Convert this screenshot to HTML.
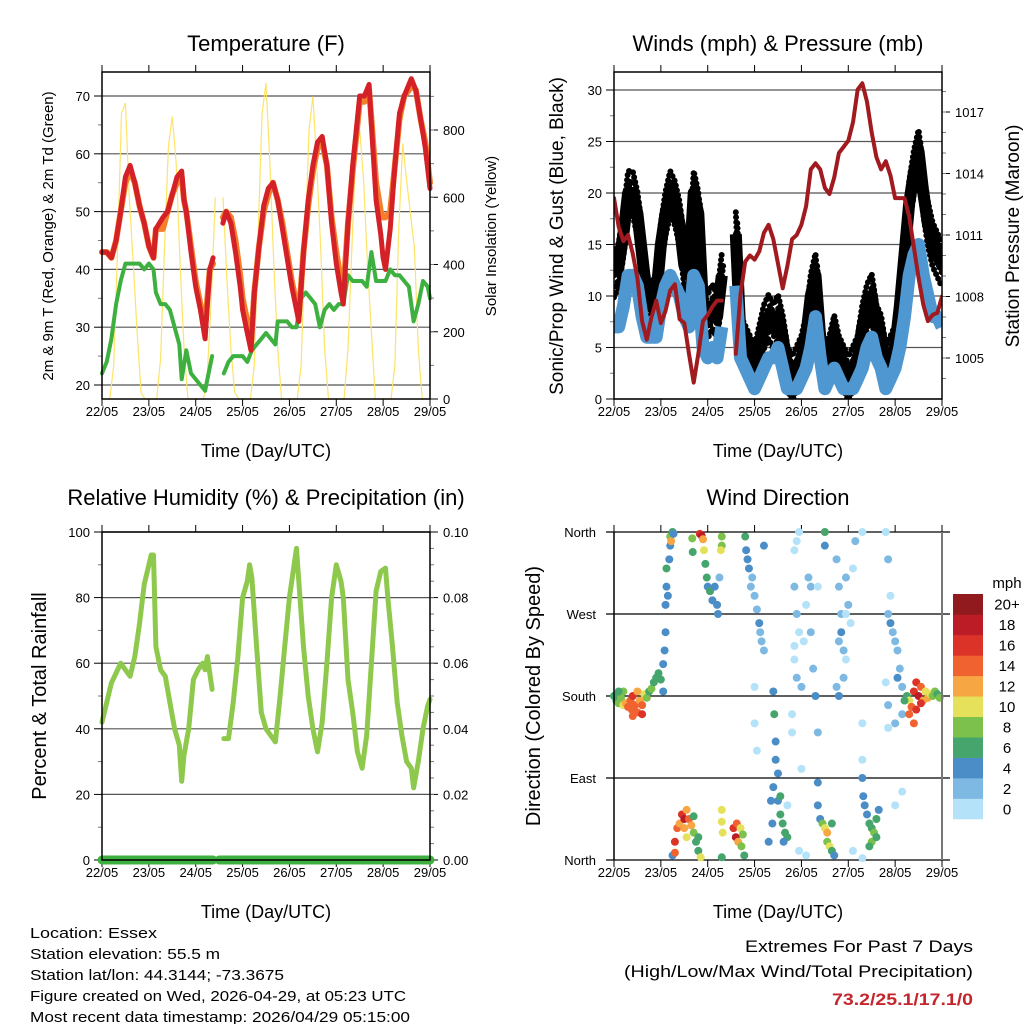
<!DOCTYPE html>
<html><head><meta charset="utf-8"><style>
html,body{margin:0;padding:0;background:#fff}
svg{display:block;font-family:"Liberation Sans",sans-serif}
</style></head><body>
<svg id="fig" width="1024" height="1024" viewBox="0 0 1024 1024"></svg>
<script>
// ---------- DATA ----------
const dayLabels=["22/05","23/05","24/05","25/05","26/05","27/05","28/05","29/05"];
const tempTimes=[0,0.1,0.2,0.3,0.4,0.5,0.6,0.7,0.8,0.9,1.0,1.05,1.1,1.15,1.3,1.4,1.5,1.6,1.7,1.75,1.8,1.9,2.0,2.1,2.2,2.25,2.3,2.37,2.45,2.58,2.65,2.75,2.85,2.95,3.0,3.1,3.18,3.25,3.35,3.45,3.55,3.65,3.75,3.85,3.95,4.05,4.15,4.2,4.3,4.4,4.5,4.6,4.7,4.8,4.9,5.0,5.1,5.15,5.25,5.35,5.45,5.5,5.6,5.7,5.75,5.85,5.95,6.0,6.05,6.15,6.25,6.35,6.45,6.55,6.6,6.7,6.8,6.9,7.0];
const tempRed=[43,43,42,45,50,56,58,55,51,48,44,43,42,47,49,50,53,56,57,52,50,43,37,33,28,34,40,42,null,48,50,48,43,37,33,29,26,36,44,51,54,55,52,47,42,37,33,31,43,52,58,62,63,58,48,41,36,34,48,58,66,70,70,72,65,52,46,42,40,47,58,67,70,72,73,71,66,61,54];
const tempOrange=[43,43,42,45,50,55,57,55,51,48,44,43,42,47,47,50,53,55,56,52,50,44,38,34,30,35,40,41,null,49,50,49,45,39,35,31,27,36,44,50,53,55,52,48,43,38,34,32,43,51,57,61,62,58,49,43,38,36,48,57,65,69,69,71,66,55,50,49,49,50,58,66,70,71,72,71,66,62,55];
const dewTimes=[0,0.1,0.2,0.3,0.4,0.5,0.6,0.7,0.8,0.9,1.0,1.1,1.15,1.25,1.35,1.45,1.55,1.65,1.7,1.8,1.9,2.0,2.1,2.2,2.25,2.35,2.45,2.6,2.7,2.8,2.9,3.0,3.1,3.2,3.3,3.4,3.5,3.6,3.7,3.75,3.85,3.95,4.05,4.15,4.25,4.35,4.45,4.55,4.65,4.75,4.85,4.95,5.05,5.15,5.25,5.35,5.45,5.55,5.65,5.75,5.85,5.95,6.05,6.15,6.25,6.35,6.45,6.55,6.65,6.75,6.85,6.95,7.0];
const dewValues=[22,24,28,34,38,41,41,41,41,40,41,40,36,34,34,33,30,27,21,26,22,21,20,19,21,25,null,22,24,25,25,25,24,26,27,28,29,28,27,31,31,31,30,30,35,36,35,34,30,33,34,33,34,34,39,38,38,38,37,43,38,38,38,40,39,39,38,37,31,34,38,37,35];
const solarTimes=[0,0.083,0.167,0.25,0.333,0.417,0.5,0.583,0.667,0.75,0.833,0.917,1,1.083,1.167,1.25,1.333,1.417,1.5,1.583,1.667,1.75,1.833,1.917,2,2.083,2.167,2.25,2.333,2.417,2.5,2.583,2.667,2.75,2.833,2.917,3,3.083,3.167,3.25,3.333,3.417,3.5,3.583,3.667,3.75,3.833,3.917,4,4.083,4.167,4.25,4.333,4.417,4.5,4.583,4.667,4.75,4.833,4.917,5,5.083,5.167,5.25,5.333,5.417,5.5,5.583,5.667,5.75,5.833,5.917,6,6.083,6.167,6.25,6.333,6.417,6.5,6.583,6.667,6.75,6.833,6.917,7];
const solarValues=[0,0,0,100,450,850,880,600,400,200,20,0, 0,0,0,120,450,750,840,700,400,150,0,0, 0,0,0,80,300,600,null,600,350,150,20,0, 0,0,0,100,500,850,940,700,400,150,0,0, 0,0,0,100,450,800,900,700,450,150,0,0, 0,0,0,150,450,750,800,650,400,200,0,0, 0,0,0,100,500,760,650,550,450,150,0,0, 0];
const windTimes=[0,0.1,0.2,0.3,0.4,0.5,0.6,0.7,0.8,0.9,1.0,1.1,1.2,1.3,1.4,1.5,1.6,1.7,1.8,1.9,2.0,2.1,2.2,2.3,2.4,2.5,2.6,2.7,2.8,2.9,3.0,3.1,3.2,3.3,3.4,3.5,3.6,3.7,3.8,3.9,4.0,4.1,4.2,4.3,4.4,4.5,4.6,4.7,4.8,4.9,5.0,5.1,5.2,5.3,5.4,5.5,5.6,5.7,5.8,5.9,6.0,6.1,6.2,6.3,6.4,6.5,6.6,6.7,6.8,6.9,7.0];
const gustValues=[12,13,16,20,20,18,14,10,9,10,15,18,20,19,17,13,12,20,18,9,8,9,8,12,null,null,16,6,5,4,3,5,7,8,7,8,6,3,2,3,4,6,10,12,6,3,4,6,4,3,2,3,4,7,9,10,7,6,3,4,5,9,14,19,22,24,20,17,15,14,13];
const windValues=[7,7,9,12,12,11,8,6,6,6,9,11,12,11,10,8,7,12,11,5,4,5,4,7,null,null,11,4,3,2,1,2,3,4,4,5,3,1,1,1,2,3,5,8,4,1,2,3,2,1,1,1,2,3,5,6,4,3,1,2,3,5,8,12,14,15,12,10,8,8,7];
const pressureValues=[1012.8,1011.4,1010.7,1011.0,1010.1,1008.9,1006.8,1005.9,1007.0,1007.8,1006.7,1007.3,1008.3,1008.6,1006.9,1006.7,1005.2,1003.8,1005.2,1006.8,1007.1,1007.5,1007.8,1007.8,null,null,1005.2,1008.1,1009.7,1010.0,1009.8,1010.2,1011.1,1011.5,1010.8,1009.6,1008.4,1009.5,1010.8,1011.0,1011.5,1012.4,1014.2,1014.5,1014.2,1013.3,1013.0,1013.8,1015.0,1015.3,1015.6,1016.5,1018.1,1018.4,1017.5,1016.0,1014.8,1014.2,1014.6,1013.9,1012.8,1012.8,1012.8,1011.9,1010.4,1008.9,1007.6,1006.8,1007.1,1007.2,1008.0];
const rhTimes=[0,0.1,0.2,0.3,0.4,0.5,0.6,0.7,0.8,0.9,1.0,1.05,1.1,1.15,1.25,1.35,1.45,1.55,1.65,1.7,1.75,1.85,1.95,2.05,2.15,2.2,2.25,2.35,2.45,2.6,2.7,2.8,2.9,3.0,3.1,3.15,3.2,3.3,3.4,3.5,3.6,3.7,3.8,3.9,4.0,4.1,4.15,4.2,4.3,4.4,4.5,4.6,4.7,4.8,4.9,5.0,5.1,5.15,5.25,5.35,5.45,5.55,5.65,5.75,5.85,5.95,6.05,6.1,6.2,6.3,6.4,6.5,6.6,6.65,6.75,6.85,6.95,7.0];
const rhValues=[42,48,54,57,60,58,56,62,72,84,90,93,93,65,58,56,48,40,35,24,32,40,55,58,60,58,62,52,null,37,37,48,62,80,85,90,86,65,45,40,38,36,50,65,80,90,95,85,65,50,40,33,42,60,80,90,85,80,55,45,33,28,38,60,82,88,89,80,65,48,38,30,28,22,30,40,47,49];
const precipTimes=[0,2.37,2.45,2.5,7.0];
const precipValues=[0,0,null,0,0];
const dirTimes=[0,0.05,0.1,0.15,0.2,0.25,0.3,0.35,0.38,0.4,0.45,0.5,0.55,0.6,0.65,0.7,0.75,0.8,0.85,0.9,0.95,1.0,0.2,0.1,0.5,0.6,0.4,
1.05,1.05,1.08,1.1,1.1,1.12,1.12,1.15,1.18,1.2,1.2,1.22,1.25,1.27,
1.25,1.3,1.3,1.35,1.4,1.45,1.5,1.5,1.55,1.6,1.65,1.55,1.7,1.75,1.8,1.85,1.7,1.8,
1.67,1.68,1.83,1.87,1.9,1.92,1.95,1.98,2.0,2.05,2.1,2.15,2.2,2.22,2.25,2.3,2.3,2.28,
2.3,2.3,2.32,2.3,2.55,2.6,2.62,2.65,2.7,2.72,2.78,2.75,
2.8,2.82,2.85,2.88,2.92,2.95,3.0,3.05,3.1,3.12,3.15,3.2,3.0,3.0,3.05,3.2,
3.4,3.42,3.45,3.45,3.5,3.4,3.35,3.38,3.3,3.5,3.55,3.6,3.65,3.7,3.62,3.55,3.7,
3.85,3.9,3.95,3.85,3.9,3.95,3.85,3.9,4.0,4.05,4.1,4.15,4.2,4.25,4.3,3.8,3.8,4.0,4.2,3.95,4.1,3.85,
4.35,4.35,4.4,4.45,4.5,4.55,4.55,4.6,4.65,4.7,4.65,4.35,4.35,4.5,4.5,4.75,4.8,4.85,4.8,4.9,4.9,4.75,4.85,4.95,4.95,5.0,5.05,5.1,5.15,4.8,4.95,5.3,5.3,5.3,
5.3,5.32,5.35,5.4,5.45,5.5,5.55,5.6,5.65,5.5,5.45,5.6,5.1,5.3,
5.8,5.85,5.9,5.85,5.9,5.95,6.0,6.05,6.1,6.05,6.15,5.8,5.85,5.85,6.0,6.15,6.15,6.0,
6.25,6.3,6.35,6.4,6.45,6.5,6.55,6.6,6.65,6.7,6.75,6.8,6.85,6.9,6.95,6.3,6.4,6.45,6.55,6.2];
const dirDegrees=[180,175,172,178,170,172,168,175,165,180,170,162,175,170,182,178,185,188,195,200,205,198,185,185,185,160,158,
215,185,230,250,280,300,320,290,330,345,355,350,360,358,
5,8,20,35,40,50,45,35,55,45,38,25,30,20,10,3,48,25,
353,338,358,356,352,340,325,310,300,295,285,300,280,270,310,355,345,340,
55,42,30,3,35,25,40,20,35,15,5,28,
355,340,330,320,300,310,290,275,260,250,240,230,190,150,120,345,
185,160,130,110,95,80,65,40,20,65,50,40,30,25,20,70,60,
340,350,360,300,270,250,220,200,190,240,280,310,250,210,180,160,140,100,300,10,5,235,
85,60,45,40,35,30,20,15,10,5,40,140,300,360,345,330,300,270,240,230,200,190,250,270,310,280,260,320,350,180,220,150,110,360,
90,70,60,50,40,35,30,45,55,20,15,25,10,2,
360,330,290,270,260,250,240,230,210,200,190,195,170,145,150,160,75,60,
180,175,168,185,195,180,190,175,185,178,182,180,185,182,178,160,150,165,172,175];
const dirSpeeds=[7,7,8,8,10,12,14,15,14,16,14,14,12,14,10,8,7,8,6,6,7,6,8,7,12,16,14,
5,4,4,4,4,4,6,4,4,5,8,12,7,5,
4,14,16,14,12,16,18,12,12,14,12,10,8,6,7,10,6,6,
8,6,16,18,12,10,6,6,5,6,4,4,4,4,3,9,8,10,
10,10,10,6,16,18,14,12,10,8,6,8,
6,5,4,4,3,2,2,2,4,2,2,2,1,1,1,4,
4,6,4,4,4,4,4,4,4,5,6,6,6,7,5,6,1,
1,0,0,2,2,1,1,2,2,1,1,2,2,2,4,1,0,1,3,1,0,0,
4,4,5,8,10,12,8,10,6,4,6,2,1,6,4,2,2,2,3,3,2,2,4,1,2,2,1,1,2,4,1,1,1,1,
4,4,4,4,6,7,8,6,4,8,7,6,1,0,
1,2,1,3,4,2,2,3,3,4,2,1,2,0,2,2,0,1,
7,10,14,16,17,18,14,12,10,12,10,8,8,7,8,14,15,16,16,6];
const speedColors=["#b4e2f8","#7db9e3","#4b8dc6","#46a56d","#7bc14b","#e6e15b","#f6a744","#f06230","#dc3328","#bc1c26","#901a1d"];
const speedLabels=["0","2","4","6","8","10","12","14","16","18","20+"];

// ---------- HELPERS ----------
const S=document.getElementById('fig');
const NS='http://www.w3.org/2000/svg';
function mk(tag,attrs,parent,txt){const e=document.createElementNS(NS,tag);for(const k in attrs)e.setAttribute(k,attrs[k]);if(txt!==undefined)e.textContent=txt;(parent||S).appendChild(e);return e;}
function lin(d0,d1,r0,r1){return v=>r0+(v-d0)/(d1-d0)*(r1-r0);}
function pathFrom(ts,vs,xs,ys){let d='',pen=false;for(let i=0;i<ts.length;i++){if(vs[i]===null||vs[i]===undefined){pen=false;continue;}d+=(pen?'L':'M')+xs(ts[i]).toFixed(1)+','+ys(vs[i]).toFixed(1);pen=true;}return d;}
function txt(x,y,s,size,anchor,parent,extra){const a=Object.assign({x:x,y:y,'font-size':size,'text-anchor':anchor||'middle',fill:'#000'},extra||{});return mk('text',a,parent,s);}

function panel(name){
  const g=mk('g',{});
  
  
  return g;
}
function timeAxis(g,L,R,B,T,name){
  const xs=lin(0,7,L,R);
  const ax=mk('g',{},g);
  
  
  dayLabels.forEach((lab,i)=>{
    const x=xs(i);
    mk('line',{x1:x,x2:x,y1:B,y2:B+7,stroke:'#000','stroke-width':1},ax);
    mk('line',{x1:x,x2:x,y1:T,y2:T-7,stroke:'#000','stroke-width':1},ax);
    const t=txt(x,B+17,lab,13,'middle',ax);
    
    
  });
  const tt=txt((L+R)/2,B+58,'Time (Day/UTC)',18,'middle',g);
  
  
  return xs;
}
function frame(g,L,R,T,B){
  mk('rect',{x:L,y:T,width:R-L,height:B-T,fill:'none',stroke:'#000','stroke-width':1.5},g);
}
function leftAxis(g,L,R,ys,ticks,minors,grid,fmt){
  ticks.forEach(v=>{const y=ys(v);
    if(grid)mk('line',{x1:L,x2:R,y1:y,y2:y,stroke:'#555','stroke-width':1.2},g);
    mk('line',{x1:L-8,x2:L,y1:y,y2:y,stroke:'#000','stroke-width':1},g);
    txt(L-12,y+5,fmt?fmt(v):String(v),13,'end',g);});
  minors.forEach(v=>{const y=ys(v);mk('line',{x1:L-4,x2:L,y1:y,y2:y,stroke:'#777','stroke-width':1},g);});
}
function rightAxis(g,R,ys,ticks,minors,fmt){
  ticks.forEach(v=>{const y=ys(v);
    mk('line',{x1:R,x2:R+8,y1:y,y2:y,stroke:'#000','stroke-width':1},g);
    txt(R+13,y+5,fmt?fmt(v):String(v),13,'start',g);});
  minors.forEach(v=>{const y=ys(v);mk('line',{x1:R,x2:R+4,y1:y,y2:y,stroke:'#777','stroke-width':1},g);});
}
function rotLabel(g,x,y,s,size,name){
  const t=mk('text',{x:0,y:0,'font-size':size,'text-anchor':'middle',transform:`translate(${x},${y}) rotate(-90)`},g,s);
  
  
}
function range(a,b,s){const r=[];for(let v=a;v<=b+1e-9;v+=s)r.push(+v.toFixed(4));return r;}

// ---------- PANEL 1: Temperature ----------
{
 const L=102,R=430,T=72,B=399;
 const g=panel('temperature-panel');
 const t=txt(266,51,'Temperature (F)',22,'middle',g);
 
 const ys=lin(20,70,385,96);
 const ysol=lin(0,800,399,130);
 leftAxis(g,L,R,ys,[20,30,40,50,60,70],range(25,65,10),true);
 rightAxis(g,R,ysol,[0,200,400,600,800],range(100,900,100));
 const xs=timeAxis(g,L,R,B,T,'temperature-x-axis');
 const sol=mk('path',{d:pathFrom(solarTimes,solarValues,xs,ysol),fill:'none',stroke:'#fde468','stroke-width':1.2},g);
 
 const dw=mk('path',{d:pathFrom(dewTimes,dewValues,xs,ys),fill:'none',stroke:'#3db03f','stroke-width':4,'stroke-linejoin':'round','stroke-linecap':'round'},g);
 
 const or=mk('path',{d:pathFrom(tempTimes,tempOrange,xs,ys),fill:'none',stroke:'#f47f2a','stroke-width':6,'stroke-linejoin':'round','stroke-linecap':'round'},g);
 
 const rd=mk('path',{d:pathFrom(tempTimes,tempRed,xs,ys),fill:'none',stroke:'#d42027','stroke-width':5,'stroke-linejoin':'round','stroke-linecap':'round'},g);
 
 frame(g,L,R,T,B);
 rotLabel(g,53,236,'2m & 9m T (Red, Orange) & 2m Td (Green)',15,'temperature-y-axis-title');
 rotLabel(g,496,236,'Solar Insolation (Yellow)',15,'solar-y-axis-title');
}

// ---------- PANEL 2: Winds & Pressure ----------
{
 const L=614,R=942,T=72,B=399;
 const g=panel('winds-panel');
 const t=txt(778,51,'Winds (mph) & Pressure (mb)',22,'middle',g);
 
 const ys=lin(0,30,399,90);
 const yp=lin(1005,1017,358,112);
 leftAxis(g,L,R,ys,[0,5,10,15,20,25,30],range(2.5,27.5,5),true);
 rightAxis(g,R,yp,[1005,1008,1011,1014,1017],range(1004,1018,1));
 const xs=timeAxis(g,L,R,B,T,'winds-x-axis');
 const clip=mk('clipPath',{id:'wclip'},g);
 mk('rect',{x:L,y:T,width:R-L,height:B-T},clip);
 const wg=mk('g',{'clip-path':'url(#wclip)'},g);
 [-22,-11,0,11,22].forEach((off,k)=>{
   const gu=mk('path',{d:pathFrom(windTimes,gustValues,xs,ys),transform:`translate(${k%2?1.5:0},${off})`,fill:'none',stroke:'#000','stroke-width':6,'stroke-dasharray':'0 5','stroke-linejoin':'round','stroke-linecap':'round'},wg);
   
   
 });
 const gc=mk('path',{d:pathFrom(windTimes,gustValues,xs,ys),fill:'none',stroke:'#000','stroke-width':12,'stroke-linejoin':'round'},wg);
 
 
 const wi=mk('path',{d:pathFrom(windTimes,windValues,xs,ys),fill:'none',stroke:'#4f97d1','stroke-width':13,'stroke-linejoin':'round','stroke-linecap':'butt'},wg);
 
 const pr=mk('path',{d:pathFrom(windTimes,pressureValues,xs,yp),fill:'none',stroke:'#a01a1f','stroke-width':4,'stroke-linejoin':'round','stroke-linecap':'round'},wg);
 
 frame(g,L,R,T,B);
 rotLabel(g,563,236,'Sonic/Prop Wind & Gust (Blue, Black)',19,'wind-y-axis-title');
 rotLabel(g,1019,236,'Station Pressure (Maroon)',19,'pressure-y-axis-title');
}

// ---------- PANEL 3: RH & Precip ----------
{
 const L=102,R=430,T=532,B=860;
 const g=panel('humidity-panel');
 const t=txt(266,505,'Relative Humidity (%) & Precipitation (in)',22,'middle',g);
 
 const ys=lin(0,100,860,532);
 const yr=lin(0,0.1,860,532);
 leftAxis(g,L,R,ys,[0,20,40,60,80,100],range(10,90,20),true);
 rightAxis(g,R,yr,[0,0.02,0.04,0.06,0.08,0.1],range(0.005,0.095,0.005),v=>v.toFixed(2));
 const xs=timeAxis(g,L,R,B,T,'humidity-x-axis');
 const rh=mk('path',{d:pathFrom(rhTimes,rhValues,xs,ys),fill:'none',stroke:'#8ec94d','stroke-width':5,'stroke-linejoin':'round','stroke-linecap':'round'},g);
 
 const pc=mk('path',{d:pathFrom(precipTimes,precipValues,xs,yr),fill:'none',stroke:'#3db03f','stroke-width':9,'stroke-linecap':'round'},g);
 
 frame(g,L,R,T,B);
 rotLabel(g,46,696,'Percent & Total Rainfall',20,'humidity-y-axis-title');
}

// ---------- PANEL 4: Wind Direction ----------
{
 const L=614,R=942,T=532,B=860;
 const g=panel('wind-direction-panel');
 const t=txt(778,505,'Wind Direction',22,'middle',g);
 
 const ys=lin(0,360,860,532);
 const names=['North','East','South','West','North'];
 [0,90,180,270,360].forEach((v,i)=>{const y=ys(v);
   mk('line',{x1:L-8,x2:R+8,y1:y,y2:y,stroke:'#000','stroke-width':1.2},g);
   txt(L-18,y+5,names[i],13,'end',g);});
 const xs=timeAxis(g,L,R,B,T,'wind-direction-x-axis');
 dirTimes.forEach((tm,i)=>{
   const ci=Math.min(10,Math.floor(dirSpeeds[i]/2));
   const c=mk('circle',{cx:xs(tm),cy:ys(dirDegrees[i]),r:4,fill:speedColors[ci]},g);
   
   
 });
 mk('line',{x1:L,x2:L,y1:T,y2:B,stroke:'#000','stroke-width':1.5},g);
 mk('line',{x1:R,x2:R,y1:T,y2:B,stroke:'#777','stroke-width':2},g);
 rotLabel(g,540,696,'Direction (Colored By Speed)',20,'direction-y-axis-title');
 const cb=mk('g',{},g);
 
 
 txt(1007,588,'mph',15,'middle',cb);
 const h=(819-594)/11;
 speedColors.forEach((c,i)=>{const y=594+(10-i)*h;
   mk('rect',{x:953,y:y,width:30,height:h+0.3,fill:c},cb);
   txt(1007,y+h/2+5.5,speedLabels[i],15,'middle',cb);});
}

// ---------- FOOTER TEXT ----------
{
 const g=mk('g',{});
 
 
 const lines=[['Location: Essex',127],['Station elevation: 55.5 m',190],['Station lat/lon: 44.3144; -73.3675',254],['Figure created on Wed, 2026-04-29, at 05:23 UTC',376],['Most recent data timestamp: 2026/04/29 05:15:00',380]];
 lines.forEach((l,i)=>{txt(30,938+i*21,l[0],15,'start',g,{textLength:l[1],lengthAdjust:'spacingAndGlyphs'});});
 const e=mk('g',{});
 
 
 txt(973,952,'Extremes For Past 7 Days',17,'end',e,{textLength:228,lengthAdjust:'spacingAndGlyphs'});
 txt(973,977,'(High/Low/Max Wind/Total Precipitation)',17,'end',e,{textLength:349,lengthAdjust:'spacingAndGlyphs'});
 txt(973,1005,'73.2/25.1/17.1/0',17,'end',e,{fill:'#c4262e','font-weight':'bold',textLength:141,lengthAdjust:'spacingAndGlyphs'});
}
</script>
</body></html>
